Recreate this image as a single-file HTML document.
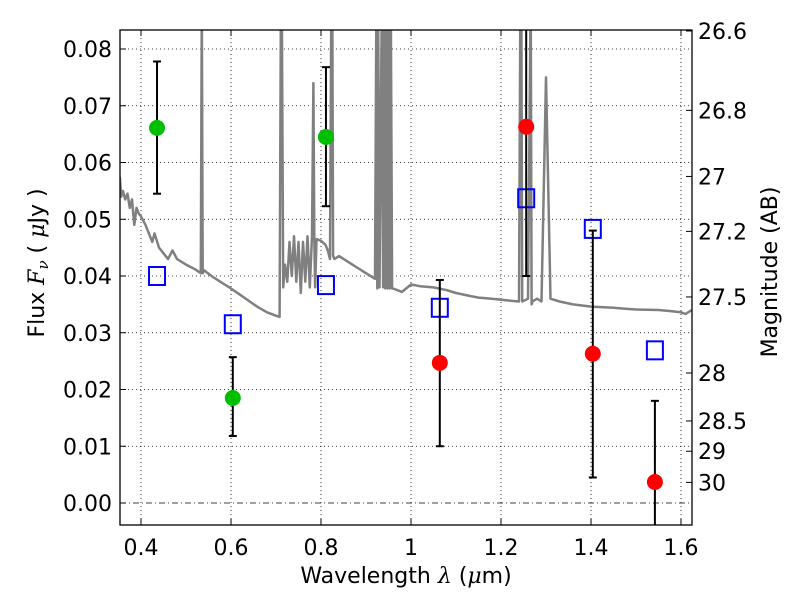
<!DOCTYPE html>
<html><head><meta charset="utf-8"><style>
body{margin:0;background:#fff}
svg text{font-family:"DejaVu Sans","Liberation Sans",sans-serif;fill:#000}
</style></head><body>
<svg id="chart" width="800" height="600" viewBox="0 0 800 600" xmlns="http://www.w3.org/2000/svg">
<defs><clipPath id="clip"><rect x="120" y="30" width="572" height="495"/></clipPath></defs>
<rect x="0" y="0" width="800" height="600" fill="#fff"/>
<g id="grid"></g>
<g id="marks" clip-path="url(#clip)"></g>
<rect x="120" y="30" width="572" height="495" fill="none" stroke="#000" stroke-width="1.3"/>
<g id="axes"></g>
<text x="406" y="583" font-size="22" text-anchor="middle">Wavelength  <tspan font-style="italic" font-family="DejaVu Serif">λ</tspan> (<tspan font-style="italic" font-family="DejaVu Serif">μ</tspan>m)</text>
<text transform="translate(44,263) rotate(-90)" font-size="22" text-anchor="middle">Flux  <tspan font-style="italic" font-family="DejaVu Serif">F</tspan><tspan font-style="italic" font-family="DejaVu Serif" font-size="15" dy="4">ν</tspan><tspan dy="-4">  (  </tspan><tspan font-style="italic" font-family="DejaVu Serif">μ</tspan>Jy )</text>
<text transform="translate(777,272) rotate(-90)" font-size="22" text-anchor="middle">Magnitude (AB)</text>
</svg>
<script>
const xTicks=[0.4,0.6,0.8,1.0,1.2,1.4,1.6];
const xTickLabels=["0.4","0.6","0.8","1","1.2","1.4","1.6"];
const yTicks=[0,0.01,0.02,0.03,0.04,0.05,0.06,0.07,0.08];
const yTickLabels=["0.00","0.01","0.02","0.03","0.04","0.05","0.06","0.07","0.08"];
const magTicks=[26.6,26.8,27,27.2,27.5,28,28.5,29,30];
const magTickLabels=["26.6","26.8","27","27.2","27.5","28","28.5","29","30"];
const greenX=[0.4356,0.604,0.811];
const greenY=[0.0661,0.0185,0.0645];
const greenLo=[0.0545,0.0118,0.0523];
const greenHi=[0.0778,0.0257,0.0768];
const redX=[1.064,1.256,1.404,1.542];
const redY=[0.0247,0.0663,0.0263,0.0037];
const redLo=[0.0100,0.0400,0.0045,-0.02];
const redHi=[0.0393,0.0900,0.0480,0.0180];
const modelX=[0.4356,0.604,0.811,1.064,1.256,1.404,1.542];
const modelY=[0.0400,0.0315,0.0384,0.0344,0.0537,0.0483,0.0269];
const specW=[0.353,0.356,0.36,0.365,0.37,0.375,0.38,0.385,0.39,0.395,0.40,0.41,0.42,0.425,0.43,0.44,0.45,0.46,0.47,0.48,0.49,0.50,0.52,0.533,0.535,0.537,0.54,0.56,0.58,0.60,0.62,0.64,0.66,0.68,0.70,0.708,0.711,0.713,0.716,0.72,0.725,0.73,0.735,0.74,0.745,0.75,0.755,0.76,0.765,0.77,0.775,0.78,0.783,0.785,0.787,0.79,0.80,0.81,0.815,0.82,0.823,0.825,0.827,0.83,0.84,0.86,0.88,0.90,0.92,0.923,0.925,0.927,0.93,0.935,0.938,0.94,0.943,0.945,0.948,0.95,0.953,0.955,0.958,0.96,0.98,1.0,1.02,1.05,1.08,1.1,1.13,1.15,1.18,1.2,1.24,1.243,1.245,1.247,1.26,1.266,1.268,1.27,1.28,1.29,1.3,1.31,1.33,1.36,1.4,1.45,1.48,1.5,1.55,1.58,1.6,1.61,1.624];
const specF=[0.0575,0.054,0.055,0.0535,0.0545,0.052,0.0535,0.049,0.052,0.051,0.0505,0.049,0.047,0.046,0.0475,0.045,0.044,0.043,0.0445,0.043,0.0425,0.042,0.0412,0.0405,0.0880,0.0405,0.041,0.0398,0.0388,0.0378,0.0367,0.0356,0.0345,0.0336,0.0330,0.0328,0.0880,0.0880,0.0380,0.0420,0.0390,0.0460,0.0400,0.0470,0.0390,0.0460,0.0370,0.0460,0.0390,0.0470,0.0380,0.0470,0.0740,0.0470,0.0380,0.0465,0.0462,0.0455,0.0445,0.0430,0.0880,0.0880,0.0435,0.0430,0.0435,0.0425,0.0415,0.0405,0.0395,0.0880,0.0378,0.0880,0.0380,0.0880,0.0380,0.0880,0.0378,0.0880,0.0378,0.0880,0.0378,0.0880,0.0378,0.0378,0.0372,0.0385,0.0382,0.0380,0.0375,0.0370,0.0365,0.0362,0.0360,0.0358,0.0355,0.0900,0.0900,0.0355,0.0360,0.0900,0.0350,0.0355,0.0360,0.0355,0.0750,0.0360,0.0355,0.0350,0.0346,0.0344,0.0342,0.0341,0.0340,0.0338,0.0336,0.0333,0.0340];

const NS="http://www.w3.org/2000/svg";
const X0=141,XS=450,Y0=503,YS=5675;
function xp(v){return X0+(v-0.4)*XS;}
function yp(v){return Y0-v*YS;}
function magToFlux(m){return Math.pow(10,(23.9-m)/2.5);}
function mk(tag,attrs,parent){const e=document.createElementNS(NS,tag);for(const k in attrs)e.setAttribute(k,attrs[k]);parent.appendChild(e);return e;}
const grid=document.getElementById('grid'),marks=document.getElementById('marks'),axes=document.getElementById('axes');

xTicks.forEach((t,i)=>{
 const g=mk('line',{x1:xp(t),x2:xp(t),y1:30,y2:525,stroke:'#000','stroke-width':0.8,'stroke-dasharray':'1,3'},grid);
 
 
 mk('line',{x1:xp(t),x2:xp(t),y1:525,y2:519,stroke:'#000'},axes);
 mk('line',{x1:xp(t),x2:xp(t),y1:30,y2:36,stroke:'#000'},axes);
 const tx=mk('text',{x:xp(t),y:555,'font-size':22,'text-anchor':'middle'},axes);
 tx.textContent=xTickLabels[i];
 
 
});
yTicks.forEach((t,i)=>{
 const g=mk('line',{x1:120,x2:692,y1:yp(t),y2:yp(t),stroke:'#000','stroke-width':0.8,'stroke-dasharray':t===0?'6,3,1,3':'1,3'},grid);
 
 
 mk('line',{x1:120,x2:126,y1:yp(t),y2:yp(t),stroke:'#000'},axes);
 const tx=mk('text',{x:112,y:yp(t)+8,'font-size':22,'text-anchor':'end'},axes);
 tx.textContent=yTickLabels[i];
 
 
});
magTicks.forEach((m,i)=>{
 const y=yp(magToFlux(m));
 mk('line',{x1:692,x2:686,y1:y,y2:y,stroke:'#000'},axes);
 const tx=mk('text',{x:698,y:y+8,'font-size':22,'text-anchor':'start'},axes);
 tx.textContent=magTickLabels[i];
 
 
});

const pts=specW.map((w,i)=>xp(w).toFixed(1)+','+yp(specF[i]).toFixed(1)).join(' ');
const sp=mk('polyline',{points:pts,fill:'none',stroke:'#808080','stroke-width':2.5,'stroke-linejoin':'round'},marks);



modelX.forEach((x,i)=>{
 const r=mk('rect',{x:xp(x)-8,y:yp(modelY[i])-9,width:16,height:18,fill:'none',stroke:'#0000ff','stroke-width':2},marks);
 
 
});
function err(xs,lo,hi){
 xs.forEach((x,i)=>{
  const g=mk('g',{},marks);
  
  
  mk('line',{x1:xp(x),x2:xp(x),y1:yp(lo[i]),y2:yp(hi[i]),stroke:'#000','stroke-width':2},g);
  mk('line',{x1:xp(x)-4,x2:xp(x)+4,y1:yp(lo[i]),y2:yp(lo[i]),stroke:'#000','stroke-width':2},g);
  mk('line',{x1:xp(x)-4,x2:xp(x)+4,y1:yp(hi[i]),y2:yp(hi[i]),stroke:'#000','stroke-width':2},g);
 });
}
err(greenX,greenLo,greenHi);err(redX,redLo,redHi);
greenX.forEach((x,i)=>{
 const c=mk('circle',{cx:xp(x),cy:yp(greenY[i]),r:8,fill:'#00bf00'},marks);
 
 
});
redX.forEach((x,i)=>{
 const c=mk('circle',{cx:xp(x),cy:yp(redY[i]),r:8,fill:'#ff0000'},marks);
 
 
});
</script>
</body></html>
